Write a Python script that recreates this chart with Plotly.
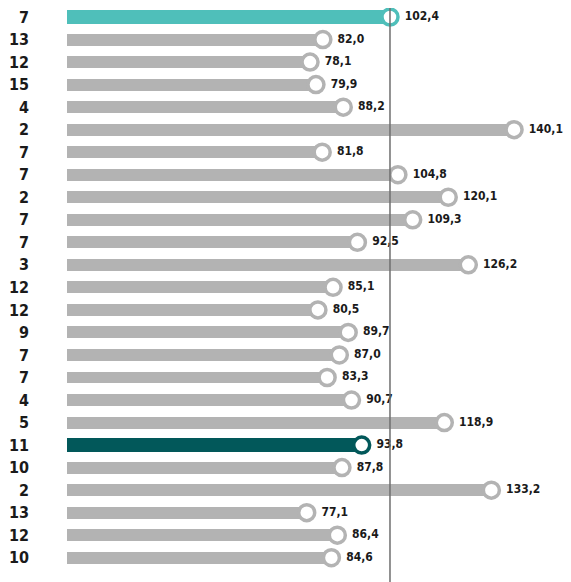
import plotly.graph_objects as go

# row labels (top to bottom) and values
labels = ["7", "13", "12", "15", "4", "2", "7", "7", "2", "7", "7", "3", "12",
          "12", "9", "7", "7", "4", "5", "11", "10", "2", "13", "12", "10"]
values = [102.4, 82.0, 78.1, 79.9, 88.2, 140.1, 81.8, 104.8, 120.1, 109.3,
          92.5, 126.2, 85.1, 80.5, 89.7, 87.0, 83.3, 90.7, 118.9, 93.8,
          87.8, 133.2, 77.1, 86.4, 84.6]
reference_value = 102.4

GREY = "#b3b3b3"
TEAL = "#4fbfba"
DARK = "#02585a"
FONT = "DejaVu Sans Condensed, DejaVu Sans, sans-serif"

rows = list(range(len(values)))
bar_colors = [GREY] * len(values)
bar_colors[0] = TEAL
bar_colors[19] = DARK
bar_widths = [0.6 if c != GREY else 0.53 for c in bar_colors]
text_vals = [" " + f"{v:.1f}".replace(".", ",") for v in values]

fig = go.Figure()

fig.add_trace(go.Bar(
    x=values, y=rows, orientation="h", base=0,
    marker=dict(color=bar_colors, line=dict(width=0)),
    width=bar_widths, hoverinfo="skip", showlegend=False,
))

fig.add_trace(go.Scatter(
    x=values, y=rows, mode="markers+text",
    marker=dict(size=16, color="white",
                line=dict(color=bar_colors, width=3.5)),
    text=text_vals, textposition="middle right",
    textfont=dict(family=FONT, size=12, color="#1a1a1a", weight="bold"),
    hoverinfo="skip", showlegend=False, cliponaxis=False,
))

# reference vertical line
fig.add_shape(type="line", xref="x", yref="paper",
              x0=reference_value, x1=reference_value, y0=-0.025, y1=1.0,
              line=dict(color="#6e6e6e", width=1.5), layer="above")

fig.update_layout(
    width=563, height=574,
    margin=dict(l=59, r=0, t=0, b=13),
    plot_bgcolor="white", paper_bgcolor="white",
    bargap=0,
    xaxis=dict(range=[4.26, 157.4], showgrid=False, zeroline=False,
               showticklabels=False, showline=False),
    yaxis=dict(range=[24.5, -0.4], tickmode="array", tickvals=rows,
               ticktext=labels, showgrid=False, zeroline=False, showline=False,
               ticks="", ticklabelstandoff=37, ticklabeloverflow="allow",
               tickfont=dict(family=FONT, size=16, color="#1a1a1a", weight="bold")),
)

fig.write_html("out.html")
